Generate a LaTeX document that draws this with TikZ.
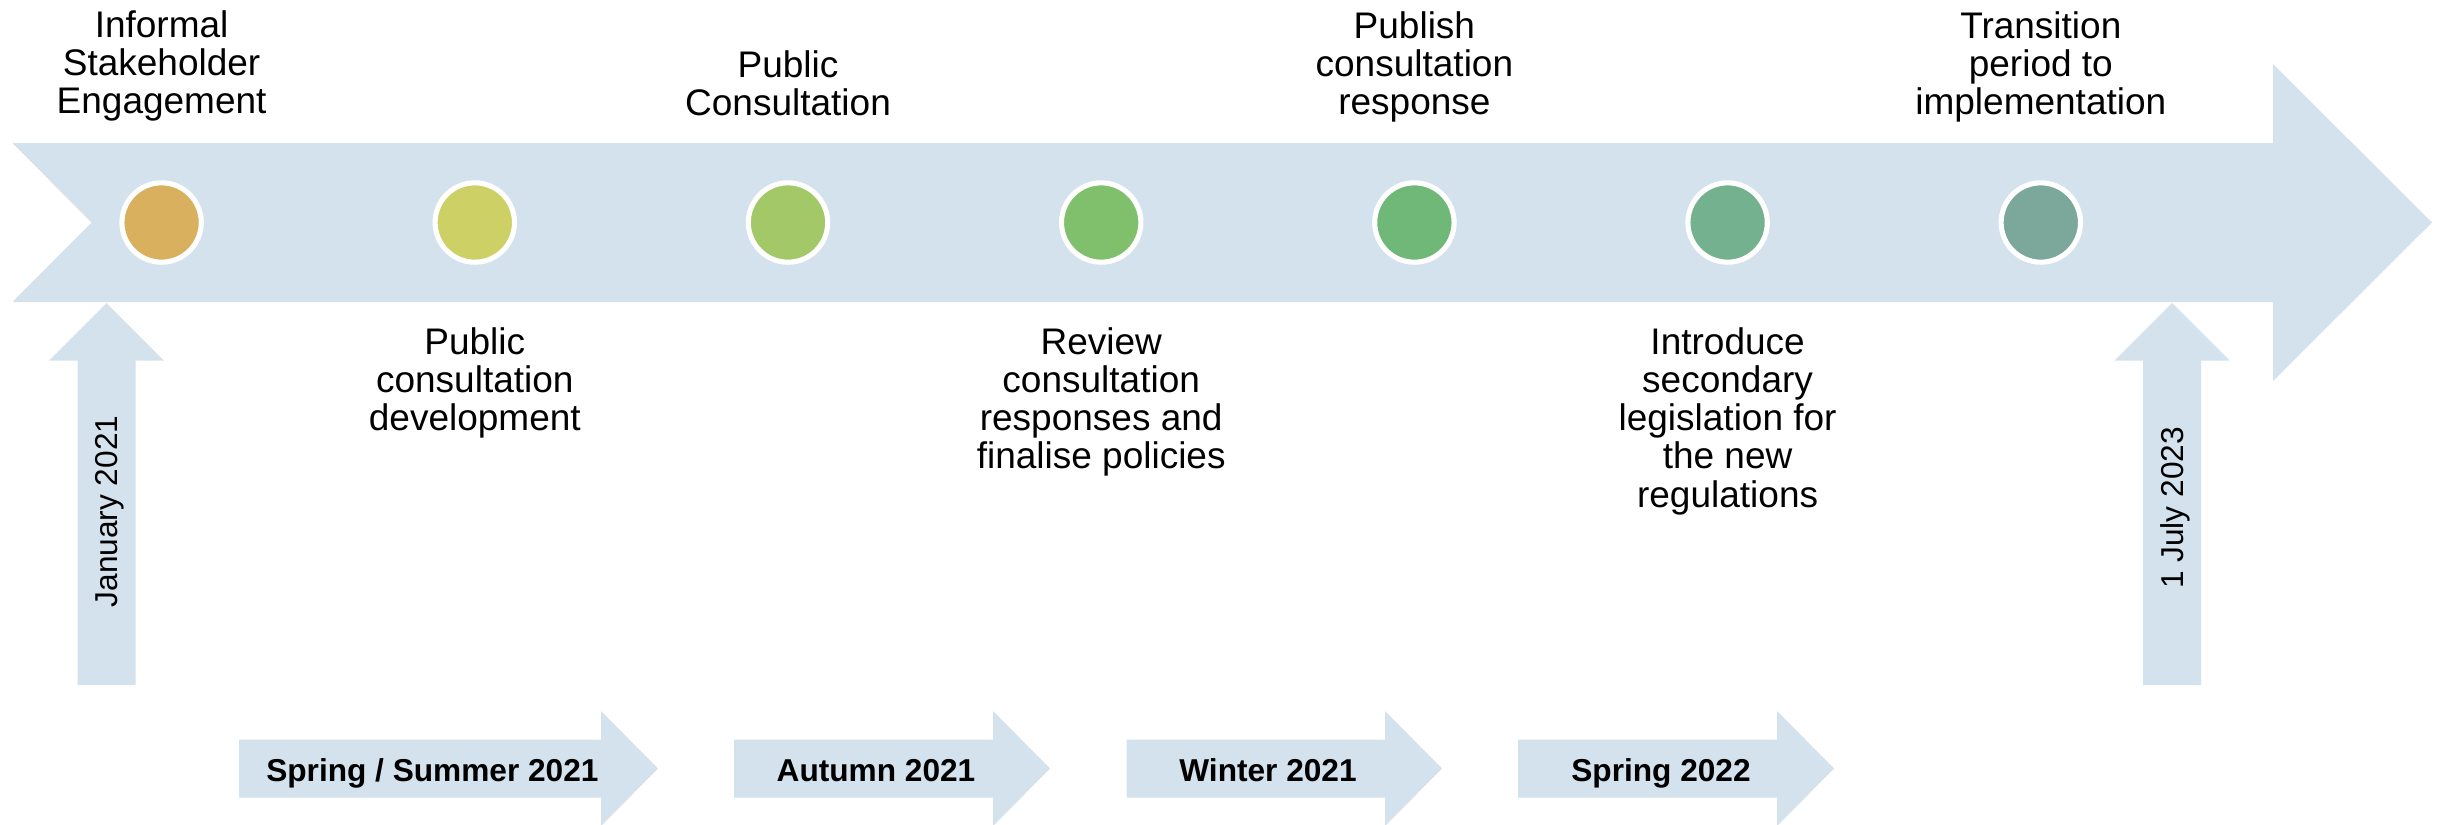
\documentclass[tikz,border=0pt]{standalone}
\usepackage{fontspec}
\setmainfont{Liberation Sans}
\usetikzlibrary{positioning}
\definecolor{bandblue}{HTML}{D4E2ED}
\definecolor{stepA}{HTML}{D9B05E}
\definecolor{stepB}{HTML}{CCD065}
\definecolor{stepC}{HTML}{A3C867}
\definecolor{stepD}{HTML}{80C06C}
\definecolor{stepE}{HTML}{6FB877}
\definecolor{stepF}{HTML}{74B18E}
\definecolor{stepG}{HTML}{7BA89B}
\tikzset{band/.style={fill=bandblue},
         milestone/.style={circle,draw=white,line width=0.51mm,minimum size=7.94mm,inner sep=0pt},
         phase/.style={align=center,inner sep=0pt,anchor=north,font=\fontsize{10.53pt}{10.87pt}\selectfont},
         period/.style={inner sep=0pt,anchor=base,font=\fontsize{9pt}{10pt}\selectfont\bfseries},
         datelabel/.style={rotate=90,inner sep=0pt,anchor=base,font=\fontsize{9pt}{10pt}\selectfont},
        }

\begin{document}
\begin{tikzpicture}[x=0.1mm,y=-0.1mm]
        \useasboundingbox (0,0) rectangle (2445,824);
        % main arrow
        \fill[band] (12.5,143)--(2273,143)--(2273,64)--(2432,222.5)--(2273,381)--(2273,302)--(12.5,302)--(91.5,222.5)--cycle;
        % start and end markers
        \fill[band] (77.5,685)--(77.5,360.5)--(49,360.5)--(106.5,303)--(164,360.5)--(135.5,360.5)--(135.5,685)--cycle;
        \fill[band] (2143,685)--(2143,360.5)--(2114.5,360.5)--(2172,303)--(2229.5,360.5)--(2201,360.5)--(2201,685)--cycle;
        % periods
        \fill[band] (239,739.5)--(601,739.5)--(601,711)--(658,768.5)--(601,826)--(601,797.5)--(239,797.5)--cycle;
        \fill[band] (734,739.5)--(993,739.5)--(993,711)--(1050,768.5)--(993,826)--(993,797.5)--(734,797.5)--cycle;
        \fill[band] (1126.5,739.5)--(1385,739.5)--(1385,711)--(1442,768.5)--(1385,826)--(1385,797.5)--(1126.5,797.5)--cycle;
        \fill[band] (1518,739.5)--(1777,739.5)--(1777,711)--(1834,768.5)--(1777,826)--(1777,797.5)--(1518,797.5)--cycle;

        \node[milestone,fill=stepA](c1)at(161.6,222.5){};
        \node[milestone,fill=stepB](c2)at(474.8,222.5){};
        \node[milestone,fill=stepC](c3)at(788,222.5){};
        \node[milestone,fill=stepD](c4)at(1101.2,222.5){};
        \node[milestone,fill=stepE](c5)at(1414.4,222.5){};
        \node[milestone,fill=stepF](c6)at(1727.6,222.5){};
        \node[milestone,fill=stepG](c7)at(2040.8,222.5){};

        \node[phase](l1)at(161.6,10){Informal\\Stakeholder\\Engagement};
        \node[phase](l3)at(788,49.5){Public\\Consultation};
        \node[phase](l5)at(1414.4,10.5){Publish\\consultation\\response};
        \node[phase](l7)at(2040.8,10.5){Transition\\period to\\implementation};
        \node[phase,below=6.2mm of c2](l2){Public\\consultation\\development};
        \node[phase,below=6.2mm of c4](l4){Review\\consultation\\responses and\\finalise policies};
        \node[phase,below=6.2mm of c6](l6){Introduce\\secondary\\legislation for\\the new\\regulations};

        \node[datelabel](jan)at(117.7,511.5){January 2021};
        \node[datelabel](jul)at(2183.4,508){1 July 2023};

        \node[period](p1)at(432.4,781){Spring / Summer 2021};
        \node[period](p2)at(876,781){Autumn 2021};
        \node[period](p3)at(1268,781){Winter 2021};
        \node[period](p4)at(1661,781){Spring 2022};
    \end{tikzpicture}
\end{document}
